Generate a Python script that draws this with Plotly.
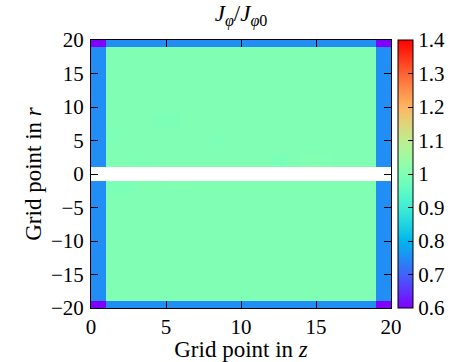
import numpy as np
import plotly.graph_objects as go

# ---- data ----
z_edges = list(range(0, 21))                      # grid points in z (cell edges)
r_edges = list(range(-20, 0)) + list(range(1, 21))  # grid points in r (cell edges, gap at 0)
inner_value = 1.0
wall_value = 0.75
corner_value = 0.6
# small deviations: (z cell, r lower edge) -> value
deviations = {
    (4, 7): 0.992, (4, 8): 0.992, (5, 7): 0.992, (5, 8): 0.992,
    (1, 5): 0.994, (1, 6): 0.994,
    (8, 4): 0.994, (8, 5): 0.994,
    (12, 1): 0.99, (12, 2): 0.99,
    (14, 1): 1.005, (14, 2): 1.005, (15, 1): 1.005, (15, 2): 1.005,
    (3, 1): 0.995, (3, 2): 0.995,
    (5, -2): 1.005, (6, -2): 1.005,
    (1, -2): 0.994, (2, -2): 0.994, (1, -3): 0.994, (2, -3): 0.994,
}
cbar_ticks = [0.6, 0.7, 0.8, 0.9, 1.0, 1.1, 1.2, 1.3, 1.4]
cbar_labels = ["0.6", "0.7", "0.8", "0.9", "1", "1.1", "1.2", "1.3", "1.4"]
x_ticks = [0, 5, 10, 15, 20]
y_ticks = [-20, -15, -10, -5, 0, 5, 10, 15, 20]

# ---- build grid ----
nz = len(z_edges) - 1
nr = len(r_edges) - 1
Z = []
for j in range(nr):
    lo = r_edges[j]
    row = []
    for i in range(nz):
        if lo == -1:
            row.append(None)  # gap
            continue
        edge_z = i == 0 or i == nz - 1
        edge_r = lo == -20 or lo == 19
        if edge_z and edge_r:
            v = corner_value
        elif edge_z or edge_r:
            v = wall_value
        else:
            v = deviations.get((i, lo), inner_value)
        row.append(v)
    Z.append(row)

# matplotlib-like "rainbow" colorscale
def rainbow(x):
    r = min(1.0, abs(2 * x - 0.5))
    g = np.sin(np.pi * x)
    b = np.cos(np.pi * x / 2)
    return f"rgb({int(round(r*255))},{int(round(g*255))},{int(round(max(b,0)*255))})"

cs = [[t, rainbow(t)] for t in np.linspace(0, 1, 41)]

FONT = "Liberation Serif"
TICK = 21
TITLE = 23

fig = go.Figure(go.Heatmap(
    x=z_edges, y=r_edges, z=Z,
    zmin=0.6, zmax=1.4, colorscale=cs,
    hoverongaps=False,
    colorbar=dict(
        x=1.023, xanchor="left", xpad=0, ypad=0,
        y=0.5, yanchor="middle", len=1.0, lenmode="fraction",
        thickness=15, outlinewidth=1, outlinecolor="black",
        tickvals=cbar_ticks, ticktext=cbar_labels, tickprefix="\u2002",
        ticks="inside", ticklen=5, tickcolor="black", tickwidth=1,
        tickfont=dict(family=FONT, size=TICK, color="black"),
    ),
))

fig.update_layout(
    width=462, height=362,
    margin=dict(l=91, r=71, t=40, b=54, autoexpand=False),
    paper_bgcolor="white", plot_bgcolor="white",
    font=dict(family=FONT, color="black"),
    title=dict(
        text="<i>J</i><sub><i>φ</i></sub>/<i>J</i><sub><i>φ</i>0</sub>",
        x=0.5, xref="paper", xanchor="center", y=0.965, yanchor="middle",
        font=dict(family=FONT, size=TITLE, color="black"),
    ),
    xaxis=dict(
        range=[0, 20], tickvals=x_ticks, ticks="inside", ticklen=7,
        tickcolor="black", showline=True, mirror="ticks", linecolor="black",
        linewidth=1, showgrid=False, zeroline=False,
        tickfont=dict(family=FONT, size=TICK),
        title=dict(text="Grid point in <i>z</i>", standoff=0,
                   font=dict(family=FONT, size=TITLE)),
    ),
    yaxis=dict(
        range=[-20, 20], tickvals=y_ticks, ticks="inside", ticklen=7,
        tickcolor="black", showline=True, mirror="ticks", linecolor="black",
        linewidth=1, showgrid=False, zeroline=False, ticklabelstandoff=2,
        tickfont=dict(family=FONT, size=TICK),
        title=dict(text="Grid point in <i>r</i>", standoff=2,
                   font=dict(family=FONT, size=TITLE)),
    ),
)

fig.write_html("out.html", config={"displayModeBar": False},
               post_script="document.body.style.margin='0px';")
